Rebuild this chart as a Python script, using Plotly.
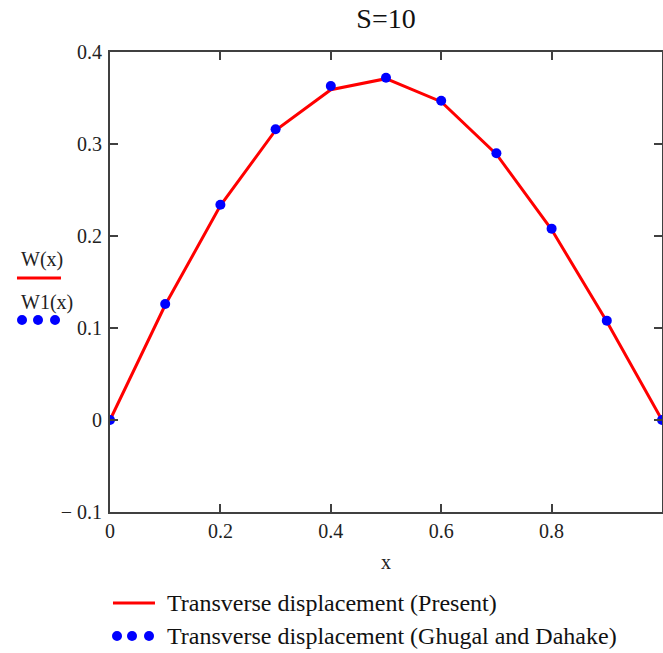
import plotly.graph_objects as go

# ---- data ----
x_vals = [0.0, 0.1, 0.2, 0.3, 0.4, 0.5, 0.6, 0.7, 0.8, 0.9, 1.0]
w_present = [0.0, 0.125, 0.233, 0.315, 0.359, 0.371, 0.346, 0.289, 0.207, 0.107, 0.0]
w_ghugal = [0.0, 0.126, 0.234, 0.316, 0.363, 0.372, 0.347, 0.290, 0.208, 0.108, 0.0]

x_tick_vals = [0.0, 0.2, 0.4, 0.6, 0.8, 1.0]
x_tick_text = ["0", "0.2", "0.4", "0.6", "0.8", ""]
y_tick_vals = [-0.1, 0.0, 0.1, 0.2, 0.3, 0.4]
y_tick_text = ["\u2212 0.1", "0", "0.1", "0.2", "0.3", "0.4"]

title_text = "S=10"
x_title = "x"
side_labels = ["W(x)", "W1(x)"]
legend_labels = ["Transverse displacement (Present)",
                 "Transverse displacement (Ghugal and Dahake)"]

RED = "#ff0000"
BLUE = "#0000ff"
AX = "#404040"
FONT = "Liberation Serif, Times New Roman, serif"

fig = go.Figure()
fig.add_trace(go.Scatter(x=x_vals, y=w_present, mode="lines",
                         line=dict(color=RED, width=3), showlegend=False))
fig.add_trace(go.Scatter(x=x_vals, y=w_ghugal, mode="markers",
                         marker=dict(color=BLUE, size=10), showlegend=False))

axis_common = dict(showline=True, linecolor=AX, linewidth=2, mirror="ticks",
                   ticks="inside", ticklen=8, tickwidth=2, tickcolor=AX,
                   showgrid=False, zeroline=False,
                   tickfont=dict(family=FONT, size=20, color="#222222"))

fig.update_xaxes(range=[0, 1], tickvals=x_tick_vals, ticktext=x_tick_text,
                 title=dict(text=x_title, font=dict(family=FONT, size=20, color="#222222"),
                            standoff=14),
                 **axis_common)
fig.update_yaxes(range=[-0.1, 0.4], tickvals=y_tick_vals, ticktext=y_tick_text,
                 ticklabelstandoff=2, **axis_common)

annotations = []
shapes = []

# left side legend (W(x), W1(x))
annotations.append(dict(text=side_labels[0], x=-0.124, y=0.548, xref="paper", yref="paper",
                        showarrow=False, font=dict(family=FONT, size=20, color="#222222"),
                        xanchor="center", yanchor="middle"))
shapes.append(dict(type="line", xref="paper", yref="paper", x0=-0.1685, x1=-0.0888,
                   y0=0.5087, y1=0.5087, line=dict(color=RED, width=3)))
annotations.append(dict(text=side_labels[1], x=-0.115, y=0.4565, xref="paper", yref="paper",
                        showarrow=False, font=dict(family=FONT, size=20, color="#222222"),
                        xanchor="center", yanchor="middle"))
for dx in [-0.1594, -0.1304, -0.0996]:
    shapes.append(dict(type="circle", xref="paper", yref="paper",
                       xsizemode="pixel", ysizemode="pixel", xanchor=dx, yanchor=0.4174,
                       x0=-5, x1=5, y0=-5, y1=5, fillcolor=BLUE, line=dict(width=0)))

# bottom legend
shapes.append(dict(type="line", xref="paper", yref="paper", x0=0.0054, x1=0.0815,
                   y0=-0.198, y1=-0.198, line=dict(color=RED, width=3)))
annotations.append(dict(text=legend_labels[0], x=0.100, y=-0.198, xref="paper", yref="paper",
                        showarrow=False, font=dict(family=FONT, size=24, color="#111111"),
                        xanchor="left", yanchor="middle"))
for dx in [0.0127, 0.0399, 0.0707]:
    shapes.append(dict(type="circle", xref="paper", yref="paper",
                       xsizemode="pixel", ysizemode="pixel", xanchor=dx, yanchor=-0.2696,
                       x0=-5, x1=5, y0=-5, y1=5, fillcolor=BLUE, line=dict(width=0)))
annotations.append(dict(text=legend_labels[1], x=0.100, y=-0.2696, xref="paper", yref="paper",
                        showarrow=False, font=dict(family=FONT, size=24, color="#111111"),
                        xanchor="left", yanchor="middle"))

fig.update_layout(
    width=663, height=653,
    margin=dict(l=110, r=1, t=52, b=141, autoexpand=False),
    paper_bgcolor="white", plot_bgcolor="white",
    title=dict(text=title_text, x=0.5, xref="paper", y=1 - 18 / 653, yref="container",
               xanchor="center", yanchor="middle",
               font=dict(family=FONT, size=28, color="#111111")),
    annotations=annotations, shapes=shapes,
    showlegend=False,
)

fig.write_html("out.html", config={"displayModeBar": False},
               post_script="document.body.style.margin='0';document.body.style.overflow='hidden';")
